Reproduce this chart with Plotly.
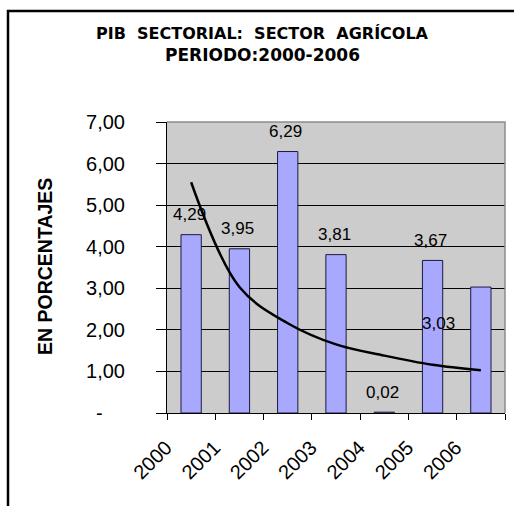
import plotly.graph_objects as go

years = ["2000", "2001", "2002", "2003", "2004", "2005", "2006"]
pib_agricola = [4.29, 3.95, 6.29, 3.81, 0.02, 3.67, 3.03]
tendencia = [5.55, 3.03, 2.16, 1.65, 1.38, 1.16, 1.03]
y_tick_vals = [0, 1, 2, 3, 4, 5, 6, 7]
y_tick_text = ["-\u00a0\u00a0\u00a0\u00a0", "1,00", "2,00", "3,00", "4,00", "5,00", "6,00", "7,00"]
label_text = ["4,29", "3,95", "6,29", "3,81", "0,02", "3,67", "3,03"]

W, H = 514, 506
L, R, T, B = 167, 9, 122, 93
pw, ph = W - L - R, H - T - B

def px(x):
    return (x - L) / pw

def py(y):
    return (H - B - y) / ph

fig = go.Figure()
fig.add_trace(go.Bar(
    x=years, y=pib_agricola, width=0.42,
    marker=dict(color="#A8A8FF", line=dict(color="#1a1a40", width=1)),
    hoverinfo="skip", showlegend=False,
))
fig.add_trace(go.Scatter(
    x=years, y=tendencia, mode="lines",
    line=dict(color="black", width=2.5, shape="spline", smoothing=1.0),
    hoverinfo="skip", showlegend=False,
))

label_font = dict(family="Liberation Sans, Arial", size=17, color="black")
annotations = []
for i, (v, t) in enumerate(zip(pib_agricola, label_text)):
    if i == len(years) - 1:
        # label drawn displaced over the previous bar, as in the original
        annotations.append(dict(x=i - 1, y=v, xref="x", yref="y", text=t,
                                showarrow=False, xshift=6, yshift=-36, font=label_font))
    else:
        annotations.append(dict(x=i, y=v, xref="x", yref="y", text=t,
                                showarrow=False, xshift=-2, yshift=20, font=label_font))

annotations.append(dict(x=px(262), y=py(33), xref="paper", yref="paper",
                        text="<b>PIB\u00a0\u00a0SECTORIAL:\u00a0\u00a0SECTOR\u00a0\u00a0AGRÍCOLA</b>",
                        showarrow=False, xanchor="center", yanchor="middle",
                        font=dict(family="DejaVu Sans", size=16, color="black")))
annotations.append(dict(x=px(262), y=py(55), xref="paper", yref="paper",
                        text="<b>PERIODO:2000-2006</b>",
                        showarrow=False, xanchor="center", yanchor="middle",
                        font=dict(family="DejaVu Sans", size=17, color="black")))
annotations.append(dict(x=px(45), y=py(267), xref="paper", yref="paper",
                        text="<b>EN PORCENTAJES</b>", textangle=-90,
                        showarrow=False, xanchor="center", yanchor="middle",
                        font=dict(family="Liberation Sans, Arial", size=19.5, color="black")))

shapes = [
    dict(type="path", xref="paper", yref="paper",
         path=f"M {px(8)} {py(530)} L {px(8)} {py(11)} L {px(530)} {py(11)}",
         line=dict(color="black", width=2.5)),
    dict(type="path", xref="paper", yref="paper",
         path="M 0 1 L 1 1 L 1 0",
         line=dict(color="#8c8c8c", width=1.5)),
]

fig.update_layout(
    width=W, height=H,
    margin=dict(l=L, r=R, t=T, b=B, pad=0),
    paper_bgcolor="white", plot_bgcolor="#CCCCCC",
    annotations=annotations, shapes=shapes,
    xaxis=dict(
        type="category", showgrid=False, showline=True, linecolor="black", linewidth=1,
        ticks="outside", tickson="boundaries", ticklen=6, tickcolor="black",
        tickangle=-45, ticklabelshift=-25, ticklabelstandoff=14,
        tickfont=dict(family="Liberation Sans, Arial", size=20, color="black"),
        range=[-0.5, 6.5], fixedrange=True,
    ),
    yaxis=dict(
        range=[0, 7], tickvals=y_tick_vals, ticktext=y_tick_text,
        showgrid=True, gridcolor="black", gridwidth=1,
        showline=True, linecolor="black", linewidth=1, zeroline=False,
        ticks="outside", ticklen=10, tickcolor="black", ticklabelstandoff=27,
        tickfont=dict(family="Liberation Sans, Arial", size=20, color="black"),
        fixedrange=True,
    ),
)

fig.write_html("out.html", config={"displayModeBar": False})
